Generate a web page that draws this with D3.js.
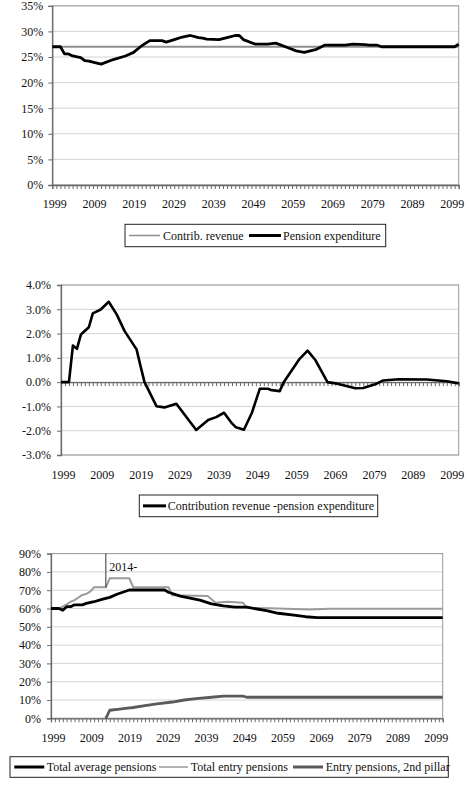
<!DOCTYPE html>
<html><head><meta charset="utf-8">
<script src="https://cdn.jsdelivr.net/npm/d3@7"></script>
<style>body{margin:0;background:#fff}svg{display:block}svg text{font-family:"Liberation Serif","Times New Roman","DejaVu Serif",serif}</style>
</head><body><svg id="c" width="467" height="798"></svg>
<script>
// ---------- data ----------
const xLabelYears = [1999, 2009, 2019, 2029, 2039, 2049, 2059, 2069, 2079, 2089, 2099];

// Chart 1
const y1Ticks = [0, 5, 10, 15, 20, 25, 30, 35];
const y1Labels = ["0%", "5%", "10%", "15%", "20%", "25%", "30%", "35%"];
const contribYears = [1999, 2099];
const contribRevenue = [27, 27];
const pensionYears = [1999,2001,2002,2003,2004,2006,2007,2008,2011,2014,2017,2019,2021,2022,2023,2026,2027,2029,2031,2033,2035,2036,2037,2040,2042,2044,2045,2046,2049,2052,2054,2057,2059,2061,2064,2066,2071,2073,2076,2077,2079,2080,2098,2099];
const pensionExpenditure = [27.0,27.0,25.6,25.6,25.2,24.9,24.3,24.2,23.6,24.5,25.2,25.9,27.2,27.7,28.2,28.2,27.9,28.4,28.9,29.2,28.8,28.7,28.5,28.4,28.8,29.2,29.2,28.4,27.5,27.5,27.7,26.8,26.2,25.9,26.5,27.3,27.3,27.5,27.4,27.3,27.3,27.0,27.0,27.5];

// Chart 2
const y2Ticks = [-3, -2, -1, 0, 1, 2, 3, 4];
const y2Labels = ["-3.0%", "-2.0%", "-1.0%", "0.0%", "1.0%", "2.0%", "3.0%", "4.0%"];
const balanceYears = [1999,2001,2002,2003,2004,2006,2007,2009,2011,2013,2015,2018,2019,2020,2023,2025,2028,2033,2036,2038,2040,2042,2043,2045,2047,2049,2051,2052,2054,2055,2059,2061,2063,2066,2068,2073,2075,2078,2080,2084,2091,2096,2099];
const balance = [0,0,1.51,1.37,1.96,2.26,2.83,2.99,3.31,2.79,2.10,1.35,0.66,0.0,-0.99,-1.04,-0.89,-1.97,-1.56,-1.44,-1.26,-1.70,-1.86,-1.96,-1.26,-0.27,-0.27,-0.33,-0.37,0.0,0.96,1.30,0.90,0.0,-0.05,-0.25,-0.24,-0.09,0.07,0.12,0.11,0.04,-0.05];

// Chart 3
const y3Ticks = [0, 10, 20, 30, 40, 50, 60, 70, 80, 90];
const y3Labels = ["0%", "10%", "20%", "30%", "40%", "50%", "60%", "70%", "80%", "90%"];
const avgYears = [1999,2001,2002,2003,2004,2005,2007,2008,2010,2012,2014,2016,2019,2028,2029,2032,2037,2040,2043,2046,2049,2054,2057,2061,2064,2067,2099];
const totalAverage = [60,60,59,61,61,62,62,62.8,63.7,65,66.1,67.9,70.1,70.1,68.9,66.8,64.6,62.5,61.4,60.7,60.7,58.8,57.4,56.4,55.5,55,55];
const entryYears = [1999,2001,2002,2003,2004,2005,2006,2007,2008,2009,2010,2013,2014,2019,2020,2029,2030,2039,2040,2041,2044,2048,2049,2055,2065,2070,2099];
const totalEntry = [60,60,61,62.3,63.7,64.6,66,67.4,68,69.2,71.6,71.6,76.5,76.5,71.6,71.6,67.2,66.8,65,63.2,63.7,63.2,60.4,60.2,59.5,59.8,59.8];
const p2Years = [2013,2014,2016,2018,2020,2023,2026,2030,2033,2036,2040,2043,2048,2049,2099];
const entrySecondPillar = [0,4.4,4.9,5.4,5.9,6.9,7.9,8.9,10,10.8,11.5,12.1,12.1,11.5,11.5];
const annotationYear = 2013;
const annotationTop = 90, annotationBottom = 71.6;
const annotationText = "2014-";

// ---------- drawing ----------
const FONT = "Liberation Serif, Times New Roman, serif";
const svg = d3.select("#c");
const zip = (xs, ys) => xs.map((v, i) => [v, ys[i]]);

function frame(o) {
  const g = svg.append("g");
  const x = d3.scaleLinear().domain([1999, 2099]).range([o.x0, o.x1]);
  const xl = d3.scaleLinear().domain([1999, 2099]).range([o.x0 + 2.5, o.x1 - 6.5]);
  const y = d3.scaleLinear().domain(o.yDomain).range([o.yBottom, o.yTop]);
  g.selectAll("line.grid").data(o.yTicks).join("line")
    .attr("x1", o.x0).attr("x2", o.x1)
    .attr("y1", d => y(d)).attr("y2", d => y(d))
    .attr("stroke", "#d4d4d4").attr("stroke-width", 1);
  g.append("rect").attr("x", o.x0).attr("y", y(o.yDomain[1]))
    .attr("width", o.x1 - o.x0).attr("height", y(o.yDomain[0]) - y(o.yDomain[1]))
    .attr("fill", "none").attr("stroke", "#9a9a9a").attr("stroke-width", 1);
  const yAxis = d3.axisLeft(y).tickValues(o.yTicks).tickSize(4)
    .tickFormat((d, i) => o.yLabels[i]);
  const ya = g.append("g").attr("transform", `translate(${o.x0},0)`).call(yAxis)
    .attr("font-family", FONT).attr("font-size", 12);
  ya.select(".domain").attr("stroke", "#6a6a6a").attr("stroke-width", 1.3);
  ya.selectAll(".tick line").attr("stroke", "#6a6a6a");
  ya.selectAll("text").attr("font-family", FONT).attr("font-size", 12)
    .attr("fill", "#111").attr("x", -o.yLabelGap);
  const xAxis = d3.axisBottom(x).tickValues(d3.range(1999, 2100)).tickSize(4).tickFormat("");
  const xa = g.append("g").attr("transform", `translate(0,${y(o.xCross)})`).call(xAxis);
  xa.select(".domain").attr("stroke", "#6a6a6a").attr("stroke-width", 1.3);
  xa.selectAll(".tick line").attr("stroke", "#6a6a6a");
  g.selectAll("text.xl").data(xLabelYears).join("text")
    .attr("x", d => xl(d)).attr("y", o.xLabelY)
    .attr("text-anchor", "middle").attr("dominant-baseline", "central")
    .attr("font-family", FONT).attr("font-size", 12).attr("fill", "#111").text(d => d);
  return { g, x, y };
}

function legend(o) {
  const g = svg.append("g");
  g.append("rect").attr("x", o.x).attr("y", o.y).attr("width", o.w).attr("height", o.h)
    .attr("fill", "#fff").attr("stroke", "#222").attr("stroke-width", 1);
  const cy = o.y + o.h / 2;
  o.items.forEach(it => {
    g.append("line").attr("x1", it.lx1).attr("x2", it.lx2).attr("y1", cy).attr("y2", cy)
      .attr("stroke", it.color).attr("stroke-width", it.width);
    g.append("text").attr("x", it.tx).attr("y", cy).attr("dominant-baseline", "central")
      .attr("font-family", FONT).attr("font-size", 12).attr("fill", "#111").text(it.label);
  });
}

function path(ctx, xs, ys, color, width) {
  const line = d3.line().x(d => ctx.x(d[0])).y(d => ctx.y(d[1]));
  ctx.g.append("path").datum(zip(xs, ys)).attr("d", line)
    .attr("fill", "none").attr("stroke", color).attr("stroke-width", width)
    .attr("stroke-linejoin", "round");
}

// Chart 1
const c1 = frame({ x0: 52.3, x1: 458.7, yTop: 5.8, yBottom: 185, yDomain: [0, 35],
  yTicks: y1Ticks, yLabels: y1Labels, yLabelGap: 9, xCross: 0, xLabelY: 204 });
path(c1, contribYears, contribRevenue, "#8f8f8f", 2);
path(c1, pensionYears, pensionExpenditure, "#000", 2.8);
legend({ x: 125, y: 224.3, w: 260.7, h: 22.4, items: [
  { lx1: 129, lx2: 160, color: "#8f8f8f", width: 1.5, tx: 163, label: "Contrib. revenue" },
  { lx1: 249, lx2: 281, color: "#000", width: 3, tx: 283, label: "Pension expenditure" }
]});

// Chart 2
const c2 = frame({ x0: 61, x1: 458.7, yTop: 285, yBottom: 455, yDomain: [-3, 4],
  yTicks: y2Ticks, yLabels: y2Labels, yLabelGap: 10, xCross: 0, xLabelY: 474.5 });
path(c2, balanceYears, balance, "#000", 2.6);
legend({ x: 139.3, y: 495, w: 238.4, h: 21.7, items: [
  { lx1: 143, lx2: 166, color: "#000", width: 3, tx: 167.7, label: "Contribution revenue -pension expenditure" }
]});

// Chart 3
const c3 = frame({ x0: 51, x1: 442.7, yTop: 553.6, yBottom: 718.3, yDomain: [0, 90],
  yTicks: y3Ticks, yLabels: y3Labels, yLabelGap: 10, xCross: 0, xLabelY: 737.5 });
path(c3, entryYears, totalEntry, "#9a9a9a", 2);
path(c3, avgYears, totalAverage, "#000", 2.8);
path(c3, p2Years, entrySecondPillar, "#5a5a5a", 2.8);
c3.g.append("line").attr("x1", c3.x(annotationYear)).attr("x2", c3.x(annotationYear))
  .attr("y1", c3.y(annotationTop)).attr("y2", c3.y(annotationBottom))
  .attr("stroke", "#333").attr("stroke-width", 1);
c3.g.append("text").attr("x", c3.x(annotationYear) + 3.5).attr("y", 571)
  .attr("font-family", FONT).attr("font-size", 12).attr("fill", "#111").text(annotationText);
legend({ x: 10, y: 756.7, w: 438.3, h: 20.6, items: [
  { lx1: 14.3, lx2: 44.3, color: "#000", width: 3, tx: 46.7, label: "Total average pensions" },
  { lx1: 159, lx2: 188, color: "#9a9a9a", width: 1.5, tx: 190.7, label: "Total entry pensions" },
  { lx1: 293, lx2: 323, color: "#5a5a5a", width: 3, tx: 325.7, label: "Entry pensions, 2nd pillar" }
]});
</script></body></html>
